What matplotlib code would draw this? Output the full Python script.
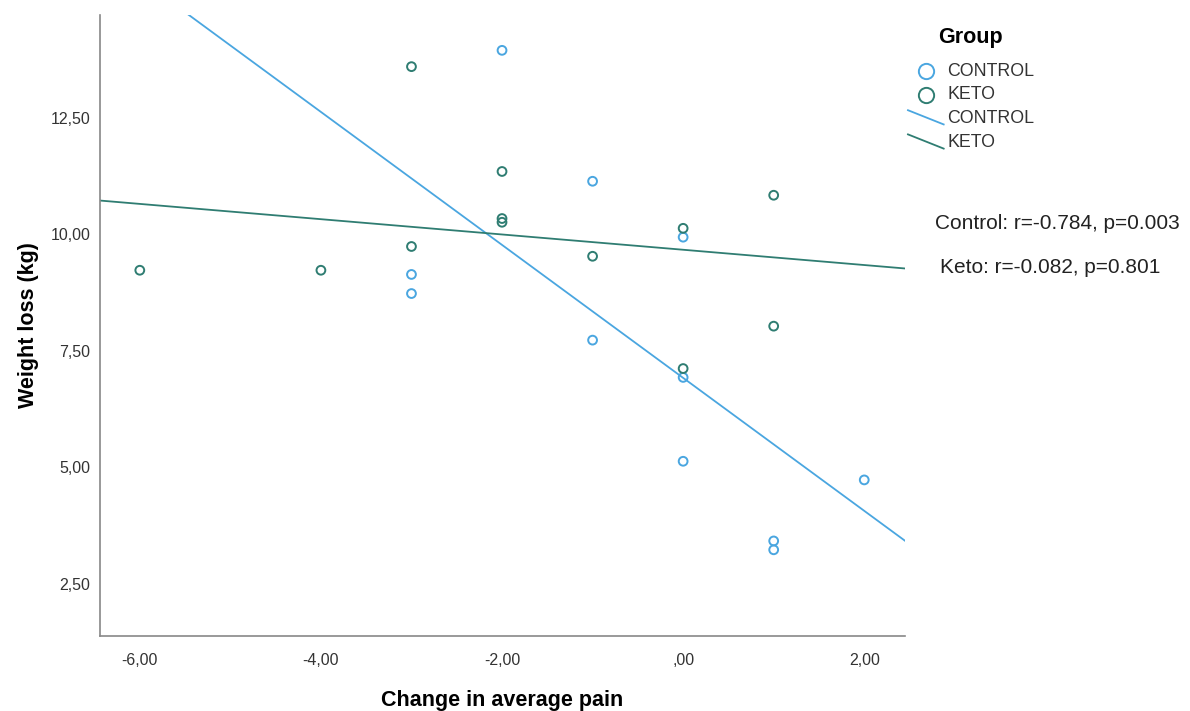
import numpy as np
import matplotlib.pyplot as plt
from matplotlib.lines import Line2D
from matplotlib.ticker import FuncFormatter

plt.rcParams['font.family'] = ['Liberation Sans', 'DejaVu Sans']

# pain change vs weight loss, per group
control_x = [-2, -1, -3, -3, -1, 0, 0, 0, 2, 1, 1]
control_y = [13.95, 11.14, 9.14, 8.73, 7.73, 9.94, 6.93, 5.13, 4.73, 3.42, 3.23]
keto_x = [-3, -2, -2, -2, -3, -1, 0, 1, -6, -4, 0, 1]
keto_y = [13.60, 11.35, 10.34, 10.26, 9.74, 9.53, 10.13, 10.84, 9.23, 9.23, 7.12, 8.03]

# fitted lines (intercept, slope)
control_fit = (6.92, -1.427)
keto_fit = (9.67, -0.164)

stats_text = ['Control: r=-0.784, p=0.003', 'Keto: r=-0.082, p=0.801']

c_blue = '#4aa6e0'
c_teal = '#2f7d72'

fig = plt.figure(figsize=(11.9, 7.11), dpi=100)
ax = fig.add_axes([0.084, 0.1055, 0.6765, 0.8735])

xmin, xmax = -6.44, 2.45
ymin, ymax = 1.38, 14.71

xs = np.array([xmin, xmax])
ax.plot(xs, control_fit[0] + control_fit[1] * xs, color=c_blue, lw=1.3)
ax.plot(xs, keto_fit[0] + keto_fit[1] * xs, color=c_teal, lw=1.3)

ax.scatter(control_x, control_y, s=40, facecolors='none', edgecolors=c_blue, linewidths=1.4, zorder=3)
ax.scatter(keto_x, keto_y, s=40, facecolors='none', edgecolors=c_teal, linewidths=1.4, zorder=3)

ax.set_xlim(xmin, xmax)
ax.set_ylim(ymin, ymax)
ax.set_xticks([-6, -4, -2, 0, 2])
ax.set_yticks([2.5, 5, 7.5, 10, 12.5])


def comma_fmt(v, pos):
    s = '%.2f' % v
    if s.startswith('0.'):
        s = s[1:]
    return s.replace('.', ',')


ax.xaxis.set_major_formatter(FuncFormatter(comma_fmt))
ax.yaxis.set_major_formatter(FuncFormatter(comma_fmt))
ax.tick_params(length=0, labelsize=11.5, colors='#333333')
ax.tick_params(axis='x', pad=12)
ax.tick_params(axis='y', pad=7)
for side in ['top', 'right']:
    ax.spines[side].set_visible(False)
for side in ['left', 'bottom']:
    ax.spines[side].set_color('#888888')
    ax.spines[side].set_linewidth(1.2)

ax.set_xlabel('Change in average pain', fontsize=15.5, fontweight='bold', labelpad=16)
ax.set_ylabel('Weight loss (kg)', fontsize=15.5, fontweight='bold', labelpad=8)

# legend drawn by hand
fig.text(0.788, 0.947, 'Group', fontsize=15.5, fontweight='bold', va='center')
rows = [0.900, 0.867, 0.833, 0.799]
labels = ['CONTROL', 'KETO', 'CONTROL', 'KETO']
for i, (yy, lab) in enumerate(zip(rows, labels)):
    col = c_blue if lab == 'CONTROL' else c_teal
    if i < 2:
        fig.add_artist(Line2D([0.778], [yy], marker='o', markersize=11, mfc='none',
                              mec=col, mew=1.4, transform=fig.transFigure))
    else:
        fig.add_artist(Line2D([0.763, 0.793], [yy + 0.012, yy - 0.008], color=col, lw=1.3,
                              transform=fig.transFigure))
    fig.text(0.796, yy, lab, fontsize=12.8, color='#333333', va='center')

fig.text(0.786, 0.686, stats_text[0], fontsize=15, color='#222222', va='center')
fig.text(0.790, 0.624, stats_text[1], fontsize=15, color='#222222', va='center')

fig.savefig('out.png', dpi=100)
